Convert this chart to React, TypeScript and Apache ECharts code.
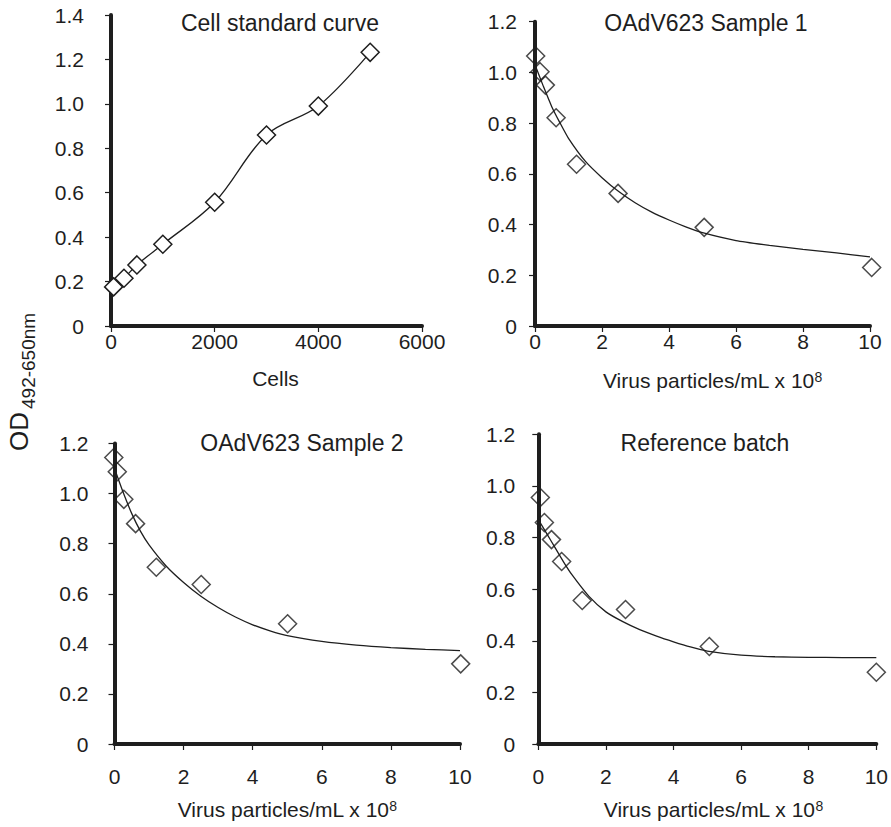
import React, { useEffect, useRef } from 'react';
import * as echarts from 'echarts';

const FONT = '"Liberation Sans", Arial, Helvetica, sans-serif';
const INK = '#1e1e1e';

const panelTitles = ['Cell standard curve', 'OAdV623 Sample 1', 'OAdV623 Sample 2', 'Reference batch'];
const yAxisTitle = 'OD';
const yAxisSub = '492-650nm';
const cellAxisName = 'Cells';
const virusAxisName = 'Virus particles/mL x 10{sup|8}';

// Panel 1: cell standard curve
const cellCounts = [50, 250, 500, 1000, 2000, 3000, 4000, 5000];
const cellOD = [0.176, 0.215, 0.275, 0.368, 0.557, 0.86, 0.99, 1.232];

// Fitted curves at these x positions
const fitX = [0, 0.25, 0.5, 0.75, 1, 1.5, 2, 2.5, 3, 3.5, 4, 4.5, 5, 6, 7, 8, 9, 10];

// Panel 2: OAdV623 Sample 1
const s1Virus = [0.02, 0.15, 0.31, 0.63, 1.24, 2.48, 5.05, 10.05];
const s1OD = [1.065, 1.003, 0.95, 0.821, 0.638, 0.523, 0.389, 0.231];
const s1FitY = [1.03, 0.945, 0.865, 0.8, 0.74, 0.65, 0.585, 0.53, 0.485, 0.448, 0.418, 0.391, 0.368, 0.337, 0.318, 0.302, 0.288, 0.273];

// Panel 3: OAdV623 Sample 2
const s2Virus = [-0.02, 0.08, 0.27, 0.61, 1.21, 2.51, 5.01, 10.02];
const s2OD = [1.144, 1.087, 0.977, 0.88, 0.706, 0.637, 0.48, 0.32];
const s2FitY = [1.1, 1.005, 0.92, 0.85, 0.795, 0.71, 0.645, 0.59, 0.545, 0.507, 0.476, 0.452, 0.433, 0.41, 0.395, 0.385, 0.378, 0.373];

// Panel 4: Reference batch
const refVirus = [0.06, 0.18, 0.39, 0.69, 1.3, 2.58, 5.06, 10.0];
const refOD = [0.955, 0.858, 0.792, 0.707, 0.556, 0.521, 0.378, 0.278];
const refFitY = [0.87, 0.815, 0.76, 0.705, 0.655, 0.572, 0.512, 0.474, 0.443, 0.418, 0.396, 0.376, 0.36, 0.344, 0.338, 0.336, 0.335, 0.335];

// Axis ranges [min, max, interval]
const cellRange = [0, 6000, 2000];
const virusRange = [0, 10, 2];
const odRangeCell = [0, 1.4, 0.2];
const odRangeVirus = [0, 1.2, 0.2];

const zip = (xs: number[], ys: number[]) => xs.map((x, i) => [x, ys[i]]);

export default function App() {
  const ref = useRef<HTMLDivElement>(null);

  useEffect(() => {
    if (!ref.current) return;
    const chart = echarts.init(ref.current, undefined, { renderer: 'svg' });

    const grids = [
      { left: 111, top: 15, width: 311, height: 311 },
      { left: 535, top: 21.7, width: 335, height: 304.3 },
      { left: 114.5, top: 443.5, width: 345.5, height: 300.5 },
      { left: 538.3, top: 434.3, width: 338.4, height: 309.7 },
    ];

    const axisLine = { show: true, onZero: false, lineStyle: { color: INK, width: 4 } };
    const axisTick = { show: true, inside: false, length: 6, lineStyle: { color: INK, width: 1.2 } };
    const labelBase = { color: INK, fontSize: 21, fontFamily: FONT };

    const mkX = (i: number, range: number[], name: string, margin: number, nameGap: number, padL: number) => ({
      type: 'value',
      gridIndex: i,
      min: range[0],
      max: range[1],
      interval: range[2],
      axisLine,
      axisTick,
      splitLine: { show: false },
      axisLabel: { ...labelBase, margin, formatter: (v: number) => String(v) },
      name,
      nameLocation: 'middle',
      nameGap,
      nameTextStyle: {
        ...labelBase,
        padding: [0, 0, 0, padL],
        rich: { sup: { fontSize: 14, color: INK, fontFamily: FONT, verticalAlign: 'top' } },
      },
    });

    const mkY = (i: number, range: number[], margin: number) => ({
      type: 'value',
      gridIndex: i,
      min: range[0],
      max: range[1],
      interval: range[2],
      axisLine,
      axisTick,
      splitLine: { show: false },
      axisLabel: {
        ...labelBase,
        margin,
        formatter: (v: number) => (v === 0 ? '0' : v.toFixed(1)),
      },
    });

    const diamond = (fill: string) => ({
      symbol: 'diamond',
      symbolSize: 18,
      itemStyle: { color: fill, borderColor: INK, borderWidth: 1.5 },
    });

    const scatter = (i: number, xs: number[], ys: number[]) => ({
      type: 'scatter',
      xAxisIndex: i,
      yAxisIndex: i,
      data: zip(xs, ys),
      clip: false,
      z: 3,
      ...diamond('rgba(255,255,255,0)'),
    });

    const fit = (i: number, xs: number[], ys: number[]) => ({
      type: 'line',
      xAxisIndex: i,
      yAxisIndex: i,
      data: zip(xs, ys),
      smooth: 0.2,
      showSymbol: false,
      symbol: 'none',
      clip: false,
      lineStyle: { color: INK, width: 1.3 },
      z: 2,
    });

    const titlePos = [
      [280, 23],
      [706, 23],
      [302, 443],
      [705, 443],
    ];

    chart.setOption({
      animation: false,
      backgroundColor: '#ffffff',
      textStyle: { fontFamily: FONT },
      grid: grids,
      xAxis: [
        mkX(0, cellRange, cellAxisName, 5, 42, 18),
        mkX(1, virusRange, virusAxisName, 5, 44, 20),
        mkX(2, virusRange, virusAxisName, 22, 55, 0),
        mkX(3, virusRange, virusAxisName, 22, 55, 12),
      ],
      yAxis: [
        mkY(0, odRangeCell, 27),
        mkY(1, odRangeVirus, 18),
        mkY(2, odRangeVirus, 26),
        mkY(3, odRangeVirus, 23),
      ],
      series: [
        {
          type: 'line',
          xAxisIndex: 0,
          yAxisIndex: 0,
          data: zip(cellCounts, cellOD),
          smooth: 0.35,
          clip: false,
          showSymbol: true,
          lineStyle: { color: INK, width: 1.3 },
          ...diamond('#ffffff'),
        },
        fit(1, fitX, s1FitY),
        scatter(1, s1Virus, s1OD),
        fit(2, fitX, s2FitY),
        scatter(2, s2Virus, s2OD),
        fit(3, fitX, refFitY),
        scatter(3, refVirus, refOD),
      ],
      graphic: [
        ...panelTitles.map((t, i) => ({
          type: 'text',
          x: titlePos[i][0],
          y: titlePos[i][1],
          style: {
            text: t,
            fill: INK,
            fontSize: 23,
            fontFamily: FONT,
            align: 'center',
            verticalAlign: 'middle',
          },
        })),
        {
          type: 'text',
          x: 18.5,
          y: 451,
          rotation: Math.PI / 2,
          style: {
            text: yAxisTitle,
            fill: INK,
            fontSize: 26,
            fontFamily: FONT,
            align: 'left',
            verticalAlign: 'middle',
          },
        },
        {
          type: 'text',
          x: 28,
          y: 409,
          rotation: Math.PI / 2,
          style: {
            text: yAxisSub,
            fill: INK,
            fontSize: 19,
            fontFamily: FONT,
            align: 'left',
            verticalAlign: 'middle',
          },
        },
      ],
    });

    return () => chart.dispose();
  }, []);

  return (
    <div
      ref={ref}
      style={{ position: 'fixed', left: 0, top: 0, width: 891, height: 827, background: '#fff' }}
    />
  );
}
